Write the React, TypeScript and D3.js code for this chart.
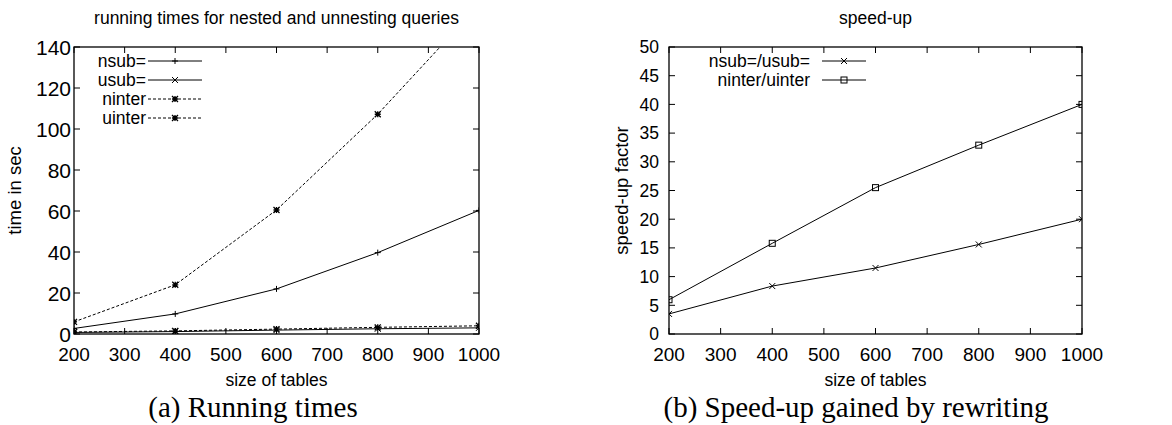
import React from "react";
import * as d3 from "d3";

const sizes = [200, 400, 600, 800, 1000];
const nsubTimes = [2.7, 9.8, 22.0, 39.7, 60.3];
const usubTimes = [0.77, 1.18, 1.9, 2.56, 3.0];
const ninterTimes = [5.9, 24.0, 60.5, 107.2, 160.5];
const uinterTimes = [0.98, 1.52, 2.38, 3.25, 4.0];
const speedSub = [3.5, 8.35, 11.5, 15.6, 20.0];
const speedInter = [5.97, 15.8, 25.5, 32.9, 40.0];
const xTicks = [200, 300, 400, 500, 600, 700, 800, 900, 1000];
const leftYTicks = [0, 20, 40, 60, 80, 100, 120, 140];
const rightYTicks = [0, 5, 10, 15, 20, 25, 30, 35, 40, 45, 50];

const SANS = "'Liberation Sans', Arial, Helvetica, sans-serif";
const SERIF = "'Liberation Serif', 'Times New Roman', serif";

type Marker = "plus" | "cross" | "star" | "square";

function MarkerShape({ type, x, y }: { type: Marker; x: number; y: number }) {
  const s = 3;
  const st = { stroke: "#000", strokeWidth: 1, fill: "none" };
  if (type === "plus")
    return <path d={`M${x - s},${y}H${x + s}M${x},${y - s}V${y + s}`} {...st} />;
  if (type === "cross")
    return <path d={`M${x - s},${y - s}L${x + s},${y + s}M${x - s},${y + s}L${x + s},${y - s}`} {...st} />;
  if (type === "star")
    return (
      <path
        d={`M${x - s},${y}H${x + s}M${x},${y - s}V${y + s}M${x - s},${y - s}L${x + s},${y + s}M${x - s},${y + s}L${x + s},${y - s}`}
        {...st}
        strokeWidth={1.3}
      />
    );
  return <rect x={x - s} y={y - s} width={2 * s} height={2 * s} {...st} />;
}

interface Series {
  name: string;
  values: number[];
  marker: Marker;
  dash?: string;
}

function Panel(props: {
  left: number;
  right: number;
  top: number;
  bottom: number;
  yMax: number;
  yTicks: number[];
  yTickSize: number;
  yTickGap: number;
  series: Series[];
  title: string;
  ylabel: string;
  ylabelX: number;
  caption: string;
  captionX: number;
  legendTextX: number;
  legendLineX0: number;
  legendLineX1: number;
  clipId: string;
}) {
  const {
    left, right, top, bottom, yMax, yTicks, yTickSize, yTickGap, series, title,
    ylabel, ylabelX, caption, captionX, legendTextX, legendLineX0, legendLineX1, clipId,
  } = props;
  const x = d3.scaleLinear().domain([200, 1000]).range([left, right]);
  const y = d3.scaleLinear().domain([0, yMax]).range([bottom, top]);
  const line = d3
    .line<number>()
    .x((_, i) => x(sizes[i]))
    .y((d) => y(d));
  const cx = (left + right) / 2;
  const tick = 6;
  const legendY0 = 61;
  const legendDy = 19;
  return (
    <g>
      <defs>
        <clipPath id={clipId}>
          <rect x={left} y={top} width={right - left} height={bottom - top} />
        </clipPath>
      </defs>
      <text x={cx} y={24} textAnchor="middle" fontFamily={SANS} fontSize={17.5}>
        {title}
      </text>
      {xTicks.map((t) => (
        <g key={"x" + t}>
          <line x1={x(t)} x2={x(t)} y1={bottom} y2={bottom - tick} stroke="#000" />
          <line x1={x(t)} x2={x(t)} y1={top} y2={top + tick} stroke="#000" />
          <text x={x(t)} y={bottom + 27} textAnchor="middle" fontFamily={SANS} fontSize={19}>
            {t}
          </text>
        </g>
      ))}
      {yTicks.map((t) => (
        <g key={"y" + t}>
          <line x1={left} x2={left + tick} y1={y(t)} y2={y(t)} stroke="#000" />
          <line x1={right} x2={right - tick} y1={y(t)} y2={y(t)} stroke="#000" />
          <text
            x={left - yTickGap}
            y={y(t) + yTickSize * 0.36}
            textAnchor="end"
            fontFamily={SANS}
            fontSize={yTickSize}
          >
            {t}
          </text>
        </g>
      ))}
      <rect x={left} y={top} width={right - left} height={bottom - top} fill="none" stroke="#000" strokeWidth={1.3} />
      <text
        transform={`translate(${ylabelX},${(top + bottom) / 2}) rotate(-90)`}
        textAnchor="middle"
        fontFamily={SANS}
        fontSize={18.5}
      >
        {ylabel}
      </text>
      <text x={cx} y={bottom + 52} textAnchor="middle" fontFamily={SANS} fontSize={17.5}>
        size of tables
      </text>
      <text x={captionX} y={bottom + 83} textAnchor="middle" fontFamily={SERIF} fontSize={29}>
        {caption}
      </text>
      <g clipPath={`url(#${clipId})`}>
        {series.map((s) => (
          <g key={s.name}>
            <path d={line(s.values) || ""} fill="none" stroke="#000" strokeWidth={1} strokeDasharray={s.dash} />
            {s.values.map((v, i) =>
              y(v) >= top ? <MarkerShape key={i} type={s.marker} x={x(sizes[i])} y={y(v)} /> : null
            )}
          </g>
        ))}
      </g>
      {series.map((s, i) => {
        const ly = legendY0 + i * legendDy;
        return (
          <g key={"lg" + s.name}>
            <text x={legendTextX} y={ly + 6} textAnchor="end" fontFamily={SANS} fontSize={17.5}>
              {s.name}
            </text>
            <line x1={legendLineX0} x2={legendLineX1} y1={ly} y2={ly} stroke="#000" strokeDasharray={s.dash} />
            <MarkerShape type={s.marker} x={(legendLineX0 + legendLineX1) / 2} y={ly} />
          </g>
        );
      })}
    </g>
  );
}

export default function App() {
  const leftSeries: Series[] = [
    { name: "nsub=", values: nsubTimes, marker: "plus" },
    { name: "usub=", values: usubTimes, marker: "cross" },
    { name: "ninter", values: ninterTimes, marker: "star", dash: "3,2" },
    { name: "uinter", values: uinterTimes, marker: "star", dash: "3,2" },
  ];
  const rightSeries: Series[] = [
    { name: "nsub=/usub=", values: speedSub, marker: "cross" },
    { name: "ninter/uinter", values: speedInter, marker: "square" },
  ];
  return (
    <svg
      width={1172}
      height={425}
      style={{ position: "absolute", left: 0, top: 0, background: "#fff" }}
    >
      <rect width={1172} height={425} fill="#fff" />
      <Panel
        left={74}
        right={479}
        top={47}
        bottom={334}
        yMax={140}
        yTicks={leftYTicks}
        yTickSize={21}
        yTickGap={3}
        series={leftSeries}
        title="running times for nested and unnesting queries"
        ylabel="time in sec"
        ylabelX={21}
        caption="(a) Running times"
        captionX={253}
        legendTextX={146}
        legendLineX0={148}
        legendLineX1={202}
        clipId="clipA"
      />
      <Panel
        left={669}
        right={1082}
        top={47}
        bottom={334}
        yMax={50}
        yTicks={rightYTicks}
        yTickSize={17.5}
        yTickGap={10}
        series={rightSeries}
        title="speed-up"
        ylabel="speed-up factor"
        ylabelX={628}
        caption="(b) Speed-up gained by rewriting"
        captionX={856}
        legendTextX={810}
        legendLineX0={822}
        legendLineX1={866}
        clipId="clipB"
      />
    </svg>
  );
}
